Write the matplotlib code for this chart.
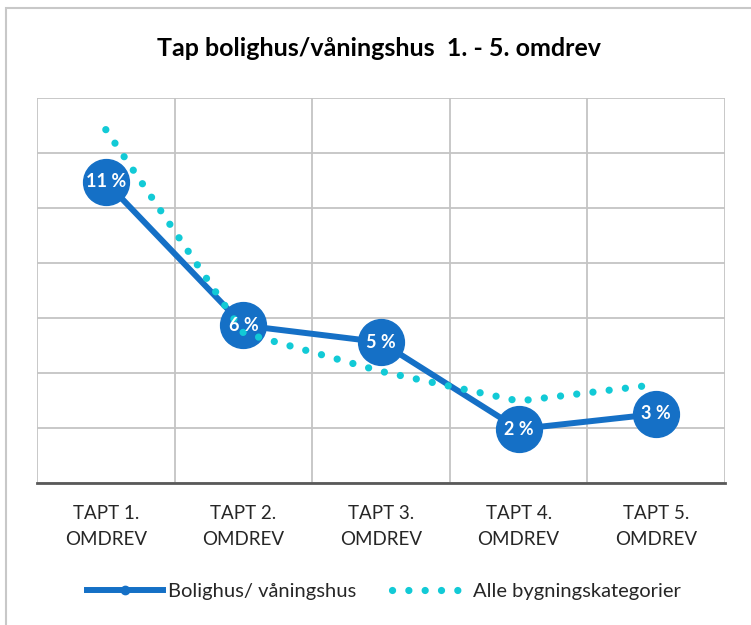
import matplotlib
matplotlib.use("Agg")
import matplotlib.pyplot as plt
from matplotlib.patches import Rectangle
from matplotlib.lines import Line2D
import numpy as np

plt.rcParams['font.family'] = ['Lato', 'DejaVu Sans']

# data
categories = ["TAPT 1.\nOMDREV", "TAPT 2.\nOMDREV", "TAPT 3.\nOMDREV",
              "TAPT 4.\nOMDREV", "TAPT 5.\nOMDREV"]
bolighus = [10.95, 5.73, 5.12, 1.96, 2.51]
alle = [12.85, 5.46, 4.06, 2.98, 3.58]
bolighus_labels = ["11 %", "6 %", "5 %", "2 %", "3 %"]

blue = "#1570C6"
cyan = "#12CAD6"
grid_col = "#C4C4C4"
dots = (0, (0.01, 2.25))

fig = plt.figure(figsize=(7.51, 6.25), dpi=100)
ax = fig.add_axes([37/751, 1 - 483/625, 688/751, 385/625])

# chart border (only left/top visible in the screenshot)
fig.patches.append(Rectangle((6/751, -0.1), 1.2, 1 - 8/625 + 0.1, transform=fig.transFigure,
                             fill=False, edgecolor="#C8C8C8", linewidth=1.5))

x = np.arange(len(categories))

ax.plot(x, bolighus, color=blue, linewidth=4.3, marker="o", markersize=33,
        markerfacecolor=blue, markeredgecolor=blue, zorder=3)
ax.plot(x, alle, color=cyan, linewidth=5.2, linestyle=dots,
        dash_capstyle="round", zorder=4)
for xi, yi, lab in zip(x, bolighus, bolighus_labels):
    ax.text(xi, yi, lab, color="white", fontsize=13, fontweight="bold",
            ha="center", va="center", zorder=5)

ax.set_xlim(-0.5, 4.5)
ax.set_ylim(0, 14)
ax.set_yticks(np.arange(0, 15, 2))
ax.set_xticks(x)
ax.set_xticks(np.arange(-0.5, 5, 1), minor=True)
ax.set_xticklabels(categories, fontsize=13.5, color="#262626", linespacing=1.6)
ax.set_yticklabels([])
ax.tick_params(axis="both", which="both", length=0)
ax.tick_params(axis="x", which="major", pad=16)
ax.grid(axis="y", color=grid_col, linewidth=1.3)
ax.grid(axis="x", which="minor", color=grid_col, linewidth=1.3)
ax.set_axisbelow(True)
for s in ["top", "right", "left"]:
    ax.spines[s].set_visible(False)
ax.spines["bottom"].set_color("#595959")
ax.spines["bottom"].set_linewidth(2)

fig.text(379/751, 1 - 48/625, "Tap bolighus/våningshus  1. - 5. omdrev",
         fontsize=18, fontweight="bold", ha="center", va="center", color="black")

handles = [
    Line2D([0], [0], color=blue, linewidth=4.3, marker="o", markersize=6),
    Line2D([0], [0], color=cyan, linewidth=5.2, linestyle=dots,
           dash_capstyle="round"),
]
fig.legend(handles, ["Bolighus/ våningshus", "Alle bygningskategorier"],
           loc="center", bbox_to_anchor=(384/751, 1 - 591/625), ncol=2,
           frameon=False, fontsize=14.5, handlelength=3.8, columnspacing=1.75,
           handletextpad=0.25, labelcolor="#262626")

fig.savefig("out.png", dpi=100)
